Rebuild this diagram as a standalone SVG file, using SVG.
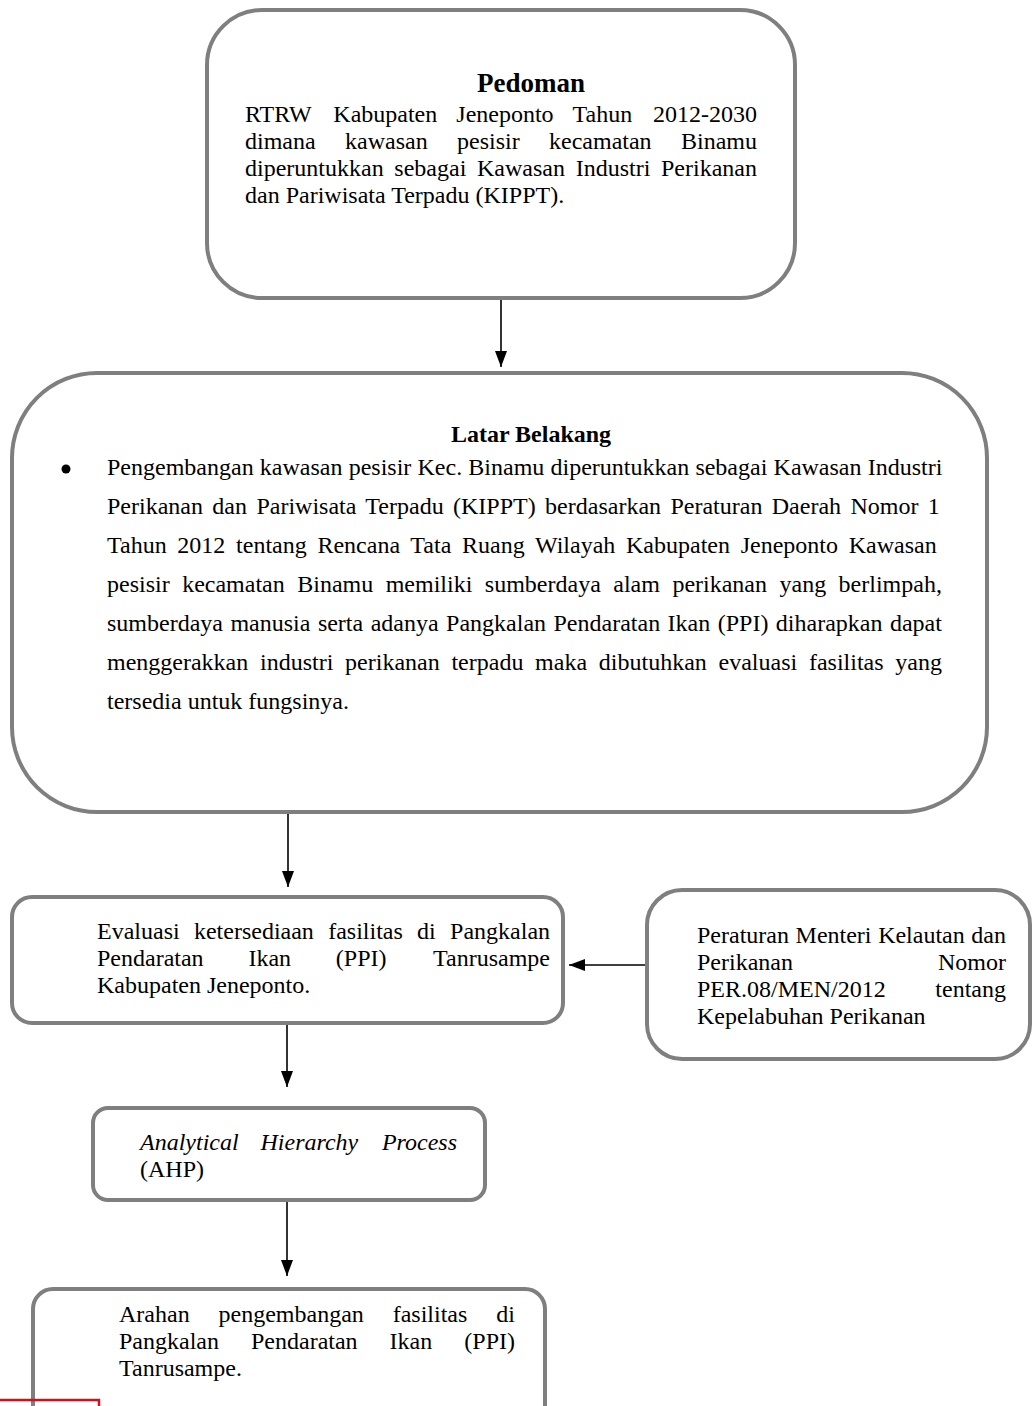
<svg xmlns="http://www.w3.org/2000/svg" width="1032" height="1406" viewBox="0 0 1032 1406">
<defs>
<style>
.box{fill:#ffffff;stroke:#7f7f7f;stroke-width:4}
.t{font-family:"Liberation Serif","Times New Roman",serif;font-size:24px;fill:#000}
.b{font-weight:bold}
.i{font-style:italic}
.con{stroke:#000;stroke-width:1.6;fill:none}
</style>
<marker id="ah" markerUnits="userSpaceOnUse" markerWidth="16" markerHeight="12" refX="16" refY="6" orient="auto">
<path d="M0,0 L16,6 L0,12 Z" fill="#000"/>
</marker>
</defs>
<rect width="1032" height="1406" fill="#ffffff"/>

<g id="connectors">
<line class="con" x1="501" y1="298" x2="501" y2="367" marker-end="url(#ah)"/>
<line class="con" x1="288" y1="812" x2="288" y2="887" marker-end="url(#ah)"/>
<line class="con" x1="647" y1="965" x2="569" y2="965" marker-end="url(#ah)"/>
<line class="con" x1="287" y1="1023" x2="287" y2="1087" marker-end="url(#ah)"/>
<line class="con" x1="287" y1="1200" x2="287" y2="1276" marker-end="url(#ah)"/>
</g>

<g id="pedoman">
<rect class="box" x="207" y="10" width="588" height="288" rx="55" ry="55"/>
<text class="t b" x="531" y="92" text-anchor="middle" style="font-size:27px">Pedoman</text>
<text class="t" y="122"><tspan x="245">RTRW</tspan><tspan x="333.3">Kabupaten</tspan><tspan x="456.3">Jeneponto</tspan><tspan x="572.6">Tahun</tspan><tspan x="757" text-anchor="end">2012-2030</tspan></text>
<text class="t" y="149"><tspan x="245">dimana</tspan><tspan x="345">kawasan</tspan><tspan x="457">pesisir</tspan><tspan x="549">kecamatan</tspan><tspan x="757" text-anchor="end">Binamu</tspan></text>
<text class="t" x="245" y="176" word-spacing="4.7">diperuntukkan sebagai Kawasan Industri Perikanan</text>
<text class="t" x="245" y="203">dan Pariwisata Terpadu (KIPPT).</text>
</g>

<g id="latar-belakang">
<rect class="box" x="12" y="373" width="975" height="439" rx="85" ry="85"/>
<text class="t b" x="531" y="442" text-anchor="middle">Latar Belakang</text>
<circle cx="66" cy="469" r="4.5" fill="#000"/>
<text class="t" x="107" y="475" word-spacing="0.2">Pengembangan kawasan pesisir Kec. Binamu diperuntukkan sebagai Kawasan Industri</text>
<text class="t" x="107" y="514" word-spacing="3.4">Perikanan dan Pariwisata Terpadu (KIPPT) berdasarkan Peraturan Daerah Nomor 1</text>
<text class="t" x="107" y="553" word-spacing="4.72">Tahun 2012 tentang Rencana Tata Ruang Wilayah Kabupaten Jeneponto Kawasan</text>
<text class="t" x="107" y="592" word-spacing="6.48">pesisir kecamatan Binamu memiliki sumberdaya alam perikanan yang berlimpah,</text>
<text class="t" x="107" y="631" word-spacing="1.47">sumberdaya manusia serta adanya Pangkalan Pendaratan Ikan (PPI) diharapkan dapat</text>
<text class="t" x="107" y="670" word-spacing="5.73">menggerakkan industri perikanan terpadu maka dibutuhkan evaluasi fasilitas yang</text>
<text class="t" x="107" y="709">tersedia untuk fungsinya.</text>
</g>

<g id="evaluasi">
<rect class="box" x="12" y="897" width="551" height="126" rx="20" ry="20"/>
<text class="t" x="97" y="939" word-spacing="8.3">Evaluasi ketersediaan fasilitas di Pangkalan</text>
<text class="t" y="966"><tspan x="97">Pendaratan</tspan><tspan x="248.4">Ikan</tspan><tspan x="335.8">(PPI)</tspan><tspan x="550" text-anchor="end">Tanrusampe</tspan></text>
<text class="t" x="97" y="993">Kabupaten Jeneponto.</text>
</g>

<g id="peraturan">
<rect class="box" x="647" y="890" width="383" height="169" rx="35" ry="35"/>
<text class="t" x="697" y="943" word-spacing="0.6">Peraturan Menteri Kelautan dan</text>
<text class="t" y="970"><tspan x="697">Perikanan</tspan><tspan x="1006" text-anchor="end">Nomor</tspan></text>
<text class="t" y="997"><tspan x="697">PER.08/MEN/2012</tspan><tspan x="1006" text-anchor="end">tentang</tspan></text>
<text class="t" x="697" y="1024">Kepelabuhan Perikanan</text>
</g>

<g id="ahp">
<rect class="box" x="93" y="1108" width="392" height="92" rx="15" ry="15"/>
<text class="t i" y="1150"><tspan x="140">Analytical</tspan><tspan x="260.5">Hierarchy</tspan><tspan x="457" text-anchor="end">Process</tspan></text>
<text class="t" x="140" y="1177">(AHP)</text>
</g>

<g id="arahan">
<rect class="box" x="33" y="1289" width="512" height="140" rx="20" ry="20"/>
<text class="t" y="1322"><tspan x="119">Arahan</tspan><tspan x="218.5">pengembangan</tspan><tspan x="392.7">fasilitas</tspan><tspan x="515" text-anchor="end">di</tspan></text>
<text class="t" y="1349"><tspan x="119">Pangkalan</tspan><tspan x="251">Pendaratan</tspan><tspan x="389.6">Ikan</tspan><tspan x="515" text-anchor="end">(PPI)</tspan></text>
<text class="t" x="119" y="1376">Tanrusampe.</text>
</g>

<rect x="-4" y="1400" width="103" height="20" fill="none" stroke="#d0101a" stroke-width="2.5"/>
</svg>
